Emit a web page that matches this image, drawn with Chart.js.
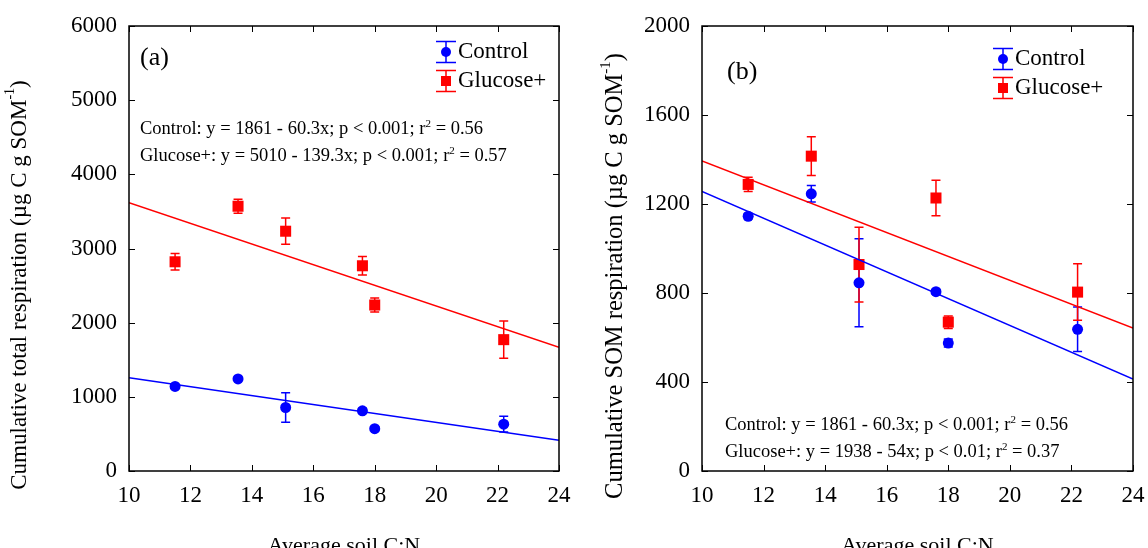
<!DOCTYPE html>
<html>
<head>
<meta charset="utf-8">
<script src="https://cdn.jsdelivr.net/npm/chart.js@4.4.1/dist/chart.umd.min.js"></script>
<style>
  html, body { margin: 0; padding: 0; background: #fff; overflow: hidden; width: 1148px; height: 548px; }
  .panel { position: absolute; top: 0; width: 600px; height: 566px; }
  #wrapA { left: 0; }
  #wrapB { left: 574px; }
</style>
</head>
<body>
<div class="panel" id="wrapA"><canvas id="chartA"></canvas></div>
<div class="panel" id="wrapB"><canvas id="chartB"></canvas></div>
<script>
// shared x values (average soil C:N)
const soilCN = [11.5, 13.55, 15.1, 17.6, 18.0, 22.2];
const fitX = [10, 24];

// (a) cumulative total respiration
const totalControl = [1140, 1242, 856, 812, 570, 632];
const totalControlErr = [25, 20, 200, 35, 25, 107];
const totalGlucose = [2821, 3570, 3233, 2767, 2238, 1771];
const totalGlucoseErr = [110, 95, 177, 125, 95, 250];
const totalControlFit = [1258, 414];
const totalGlucoseFit = [3617, 1667];

// (b) cumulative SOM respiration
const somControl = [1145, 1246, 846, 806, 575, 637];
const somControlErr = [12, 37, 198, 10, 18, 100];
const somGlucose = [1288, 1415, 928, 1227, 669, 804];
const somGlucoseErr = [32, 87, 168, 80, 28, 127];
const somControlFit = [1257, 413];
const somGlucoseFit = [1393, 642];

const serif = "'Liberation Serif', 'Times New Roman', serif";
const BLUE = '#0000ff';
const RED = '#ff0000';

function pts(xs, ys) {
  return xs.map((x, i) => ({ x: x, y: ys[i] }));
}

function measureRich(ctx, parts, size) {
  let w = 0;
  parts.forEach(p => {
    if (typeof p === 'string') {
      ctx.font = size + 'px ' + serif;
      w += ctx.measureText(p).width;
    } else {
      ctx.font = Math.round(size * 0.62) + 'px ' + serif;
      w += ctx.measureText(p.sup).width;
    }
  });
  return w;
}

// text with a small superscript piece
function drawRich(ctx, parts, x, y, size) {
  let cx = x;
  parts.forEach(p => {
    if (typeof p === 'string') {
      ctx.font = size + 'px ' + serif;
      ctx.fillText(p, cx, y);
      cx += ctx.measureText(p).width;
    } else {
      ctx.font = Math.round(size * 0.62) + 'px ' + serif;
      ctx.fillText(p.sup, cx, y - size * 0.4);
      cx += ctx.measureText(p.sup).width;
    }
  });
}

const errorBars = {
  id: 'errorBars',
  beforeDatasetsDraw(chart) {
    const { ctx } = chart;
    const xs = chart.scales.x, ys = chart.scales.y;
    chart.data.datasets.forEach(ds => {
      if (!ds.errors) return;
      ctx.save();
      ctx.strokeStyle = ds.borderColor;
      ctx.lineWidth = 1.5;
      ds.data.forEach((pt, i) => {
        const e = ds.errors[i];
        const px = xs.getPixelForValue(pt.x);
        const top = ys.getPixelForValue(pt.y + e);
        const bot = ys.getPixelForValue(pt.y - e);
        ctx.beginPath();
        ctx.moveTo(px, top); ctx.lineTo(px, bot);
        ctx.moveTo(px - 4.5, top); ctx.lineTo(px + 4.5, top);
        ctx.moveTo(px - 4.5, bot); ctx.lineTo(px + 4.5, bot);
        ctx.stroke();
      });
      ctx.restore();
    });
  }
};

const decor = {
  id: 'decor',
  afterDraw(chart, args, opts) {
    const { ctx, chartArea: a } = chart;
    const xs = chart.scales.x, ys = chart.scales.y;
    ctx.save();
    // frame
    ctx.strokeStyle = '#000';
    ctx.lineWidth = 1.5;
    ctx.strokeRect(a.left, a.top, a.right - a.left, a.bottom - a.top);
    // inward ticks on all four sides
    ctx.lineWidth = 1;
    ctx.beginPath();
    xs.ticks.forEach(t => {
      const px = Math.round(xs.getPixelForValue(t.value)) + 0.5;
      ctx.moveTo(px, a.bottom); ctx.lineTo(px, a.bottom - 6);
      ctx.moveTo(px, a.top); ctx.lineTo(px, a.top + 6);
    });
    ys.ticks.forEach(t => {
      const py = Math.round(ys.getPixelForValue(t.value)) + 0.5;
      ctx.moveTo(a.left, py); ctx.lineTo(a.left + 6, py);
      ctx.moveTo(a.right, py); ctx.lineTo(a.right - 6, py);
    });
    ctx.stroke();

    // y-axis title, rotated, with superscript
    ctx.fillStyle = '#000';
    ctx.save();
    ctx.translate(opts.yTitle.x, opts.yTitle.y);
    ctx.rotate(-Math.PI / 2);
    ctx.textAlign = 'left';
    ctx.textBaseline = 'middle';
    const tw = measureRich(ctx, opts.yTitle.parts, opts.yTitle.size);
    drawRich(ctx, opts.yTitle.parts, -tw / 2, 0, opts.yTitle.size);
    ctx.restore();

    // panel label
    ctx.textBaseline = 'middle';
    ctx.textAlign = 'left';
    ctx.font = '26px ' + serif;
    ctx.fillText(opts.label, a.left + opts.labelDx, opts.labelY);

    // legend with error-bar glyphs
    const lg = opts.legend;
    const entries = [
      { text: 'Control', color: BLUE, y: lg.y1, shape: 'circle' },
      { text: 'Glucose+', color: RED, y: lg.y2, shape: 'rect' }
    ];
    entries.forEach(en => {
      const gx = a.right - lg.dx;
      ctx.strokeStyle = en.color;
      ctx.fillStyle = en.color;
      ctx.lineWidth = 1.5;
      ctx.beginPath();
      ctx.moveTo(gx, en.y - 10.5); ctx.lineTo(gx, en.y + 10.5);
      ctx.moveTo(gx - 10, en.y - 10.5); ctx.lineTo(gx + 10, en.y - 10.5);
      ctx.moveTo(gx - 10, en.y + 10.5); ctx.lineTo(gx + 10, en.y + 10.5);
      ctx.stroke();
      ctx.beginPath();
      if (en.shape === 'circle') ctx.arc(gx, en.y, 5, 0, Math.PI * 2);
      else ctx.rect(gx - 5, en.y - 5, 10, 10);
      ctx.fill();
      ctx.fillStyle = '#000';
      ctx.font = '23px ' + serif;
      ctx.fillText(en.text, gx + 12, en.y);
    });

    // regression annotations
    ctx.textBaseline = 'alphabetic';
    ctx.fillStyle = '#000';
    opts.notes.forEach((n, i) => {
      drawRich(ctx, n, a.left + opts.noteDx, opts.noteY[i], 18.5);
    });
    ctx.restore();
  }
};

function makePanel(id, cfg) {
  return new Chart(document.getElementById(id), {
    type: 'scatter',
    data: {
      datasets: [
        {
          label: 'Control fit', data: pts(fitX, cfg.controlFit), showLine: true,
          borderColor: BLUE, borderWidth: 1.5, pointRadius: 0
        },
        {
          label: 'Glucose+ fit', data: pts(fitX, cfg.glucoseFit), showLine: true,
          borderColor: RED, borderWidth: 1.5, pointRadius: 0
        },
        {
          label: 'Control', data: pts(soilCN, cfg.control), errors: cfg.controlErr,
          borderColor: BLUE, backgroundColor: BLUE, pointStyle: 'circle', pointRadius: 5.5, borderWidth: 0
        },
        {
          label: 'Glucose+', data: pts(soilCN, cfg.glucose), errors: cfg.glucoseErr,
          borderColor: RED, backgroundColor: RED, pointStyle: 'rect', pointRadius: 7.8, borderWidth: 0
        }
      ]
    },
    options: {
      responsive: true,
      maintainAspectRatio: false,
      animation: false,
      layout: { padding: { top: 26, right: 41, left: 0, bottom: 0 } },
      scales: {
        x: {
          type: 'linear', min: 10, max: 24,
          afterFit: s => { s.height = 95; },
          ticks: {
            stepSize: 2, padding: 11, color: '#000', font: { family: serif, size: 23 },
            callback: v => String(v)
          },
          grid: { display: false, drawTicks: false },
          border: { display: false },
          title: {
            display: true, text: 'Average soil C:N', color: '#000',
            font: { family: serif, size: 22 }, padding: { top: 0, bottom: 7 }
          }
        },
        y: {
          type: 'linear', min: 0, max: cfg.yMax,
          afterFit: s => { s.width = cfg.yWidth; },
          ticks: {
            stepSize: cfg.yStep, padding: 12, color: '#000', font: { family: serif, size: 23 },
            callback: v => String(v)
          },
          grid: { display: false, drawTicks: false },
          border: { display: false },
          title: { display: false }
        }
      },
      plugins: {
        legend: { display: false },
        tooltip: { enabled: false },
        decor: cfg.decor
      }
    },
    plugins: [errorBars, decor]
  });
}

makePanel('chartA', {
  control: totalControl, controlErr: totalControlErr,
  glucose: totalGlucose, glucoseErr: totalGlucoseErr,
  controlFit: totalControlFit, glucoseFit: totalGlucoseFit,
  yMax: 6000, yStep: 1000, yWidth: 129,
  decor: {
    yTitle: {
      x: 20, y: 285, size: 23,
      parts: ['Cumulative total respiration (\u00b5g C g SOM', { sup: '-1' }, ')']
    },
    label: '(a)', labelDx: 11, labelY: 58,
    legend: { dx: 113, y1: 52, y2: 81 },
    noteDx: 11, noteY: [134, 161],
    notes: [
      ['Control: y = 1861 - 60.3x; p < 0.001; r', { sup: '2' }, ' = 0.56'],
      ['Glucose+: y = 5010 - 139.3x; p < 0.001; r', { sup: '2' }, ' = 0.57']
    ]
  }
});

makePanel('chartB', {
  control: somControl, controlErr: somControlErr,
  glucose: somGlucose, glucoseErr: somGlucoseErr,
  controlFit: somControlFit, glucoseFit: somGlucoseFit,
  yMax: 2000, yStep: 400, yWidth: 128,
  decor: {
    yTitle: {
      x: 42, y: 276, size: 24.5,
      parts: ['Cumulative SOM respiration (\u00b5g C g SOM', { sup: '-1' }, ')']
    },
    label: '(b)', labelDx: 25, labelY: 72,
    legend: { dx: 130, y1: 59, y2: 88 },
    noteDx: 23, noteY: [430, 457],
    notes: [
      ['Control: y = 1861 - 60.3x; p < 0.001; r', { sup: '2' }, ' = 0.56'],
      ['Glucose+: y = 1938 - 54x; p < 0.01; r', { sup: '2' }, ' = 0.37']
    ]
  }
});
</script>
</body>
</html>
